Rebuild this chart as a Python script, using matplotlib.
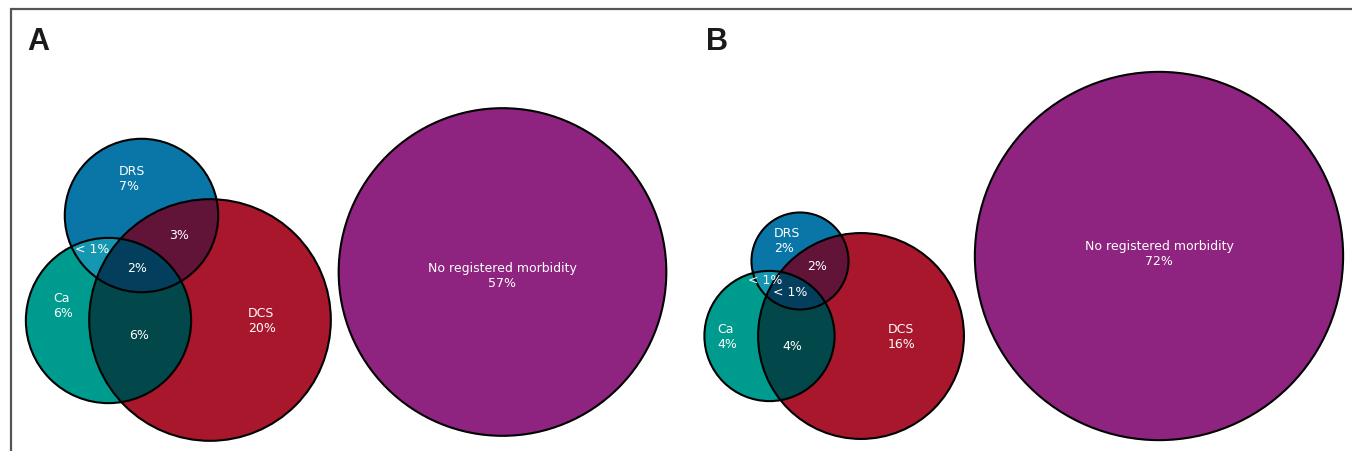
import numpy as np
import matplotlib
matplotlib.use("Agg")
import matplotlib.pyplot as plt
from matplotlib.patches import Polygon, Circle

# region percentages (value used for sizing, label shown)
sets = ["DRS", "Ca", "DCS"]

a_only = {"DRS": 7, "Ca": 6, "DCS": 20}
a_pairs = {("DRS", "DCS"): 3, ("Ca", "DRS"): 0.5, ("Ca", "DCS"): 6}
a_all3 = 2
a_none = 57
a_labels = {"DRS": "7%", "Ca": "6%", "DCS": "20%", ("DRS", "DCS"): "3%",
            ("Ca", "DRS"): "< 1%", ("Ca", "DCS"): "6%", "all": "2%", "none": "57%"}

b_only = {"DRS": 2, "Ca": 4, "DCS": 16}
b_pairs = {("DRS", "DCS"): 2, ("Ca", "DRS"): 0.5, ("Ca", "DCS"): 4}
b_all3 = 0.5
b_none = 72
b_labels = {"DRS": "2%", "Ca": "4%", "DCS": "16%", ("DRS", "DCS"): "2%",
            ("Ca", "DRS"): "< 1%", ("Ca", "DCS"): "4%", "all": "< 1%", "none": "72%"}

# layout (pixel space)
scale = 21.7
centers_a = {"DRS": (141.5, 216.5), "Ca": (108.5, 321.5), "DCS": (210, 321), "none": (502.5, 273)}
centers_b = {"DRS": (800, 262), "Ca": (769.5, 337), "DCS": (861, 337), "none": (1159, 257)}

text_a = {"DRS": (119, 179, "left"), "Ca": (53, 306, "left"), "DCS": (248, 321, "left"),
          ("DRS", "DCS"): (179, 236, "center"), ("Ca", "DRS"): (92, 250, "center"),
          ("Ca", "DCS"): (139, 336, "center"), "all": (137, 269, "center"),
          "none": (502, 276, "center")}
text_b = {"DRS": (774, 241, "left"), "Ca": (717, 337, "left"), "DCS": (888, 337, "left"),
          ("DRS", "DCS"): (817, 267, "center"), ("Ca", "DRS"): (765, 281, "center"),
          ("Ca", "DCS"): (792, 347, "center"), "all": (790, 293, "center"),
          "none": (1159, 254, "center")}

colors = {"DRS": "#0a76a8", "Ca": "#009b8f", "DCS": "#a8172c", "none": "#8e2380",
          ("DRS", "DCS"): "#611438", ("Ca", "DRS"): "#1597b2",
          ("Ca", "DCS"): "#02474a", "all": "#033f5c"}


def circle_pts(cx, cy, r, n=500):
    t = np.linspace(0, 2 * np.pi, n, endpoint=False)
    return np.column_stack([cx + r * np.cos(t), cy + r * np.sin(t)])


def clip(subject, clipper):
    out = list(subject)
    m = len(clipper)
    for i in range(m):
        if not out:
            break
        a, b = clipper[i], clipper[(i + 1) % m]
        def side(p):
            return (b[0] - a[0]) * (p[1] - a[1]) - (b[1] - a[1]) * (p[0] - a[0])
        inp, out = out, []
        for j in range(len(inp)):
            p, q = inp[j], inp[(j + 1) % len(inp)]
            sp, sq = side(p), side(q)
            if sp >= 0:
                out.append(p)
            if (sp >= 0) != (sq >= 0):
                t = sp / (sp - sq)
                out.append(p + t * (q - p))
    return np.array(out)


def draw_panel(ax, only, pairs, all3, none, labels, centers, texts):
    totals = {}
    for s in sets:
        tot = only[s] + all3
        for k, v in pairs.items():
            if s in k:
                tot += v
        totals[s] = tot
    totals["none"] = none
    radii = {k: scale * np.sqrt(v) for k, v in totals.items()}
    pts = {k: circle_pts(*centers[k], radii[k]) for k in totals}

    for k in ["none", "DCS", "Ca", "DRS"]:
        ax.add_patch(Polygon(pts[k], closed=True, facecolor=colors[k], edgecolor="none"))
    for k in pairs:
        poly = clip(pts[k[0]], pts[k[1]])
        ax.add_patch(Polygon(poly, closed=True, facecolor=colors[k], edgecolor="none"))
    poly = clip(clip(pts["DRS"], pts["Ca"]), pts["DCS"])
    ax.add_patch(Polygon(poly, closed=True, facecolor=colors["all"], edgecolor="none"))
    for k in ["none", "DCS", "Ca", "DRS"]:
        ax.add_patch(Circle(centers[k], radii[k], fill=False, edgecolor="black", lw=1.5))

    for k, (x, y, ha) in texts.items():
        if k in sets:
            s = k + "\n" + labels[k]
        elif k == "none":
            s = "No registered morbidity\n" + labels[k]
        else:
            s = labels[k]
        ax.text(x, y, s, color="white", fontsize=9, ha=ha, va="center",
                multialignment=ha, linespacing=1.25)


fig = plt.figure(figsize=(13.52, 4.52), dpi=100)
ax = fig.add_axes([0, 0, 1, 1])
ax.set_xlim(0, 1352)
ax.set_ylim(452, 0)
ax.axis("off")

draw_panel(ax, a_only, a_pairs, a_all3, a_none, a_labels, centers_a, text_a)
draw_panel(ax, b_only, b_pairs, b_all3, b_none, b_labels, centers_b, text_b)

ax.plot([11, 11, 1352], [452, 10, 10], color="#555555", lw=1.6, solid_joinstyle="miter")
ax.text(27, 42, "A", fontsize=22, fontweight="bold", family="Liberation Sans", va="center", color="#1a1a1a")
ax.text(706, 42, "B", fontsize=22, fontweight="bold", family="Liberation Sans", va="center", color="#1a1a1a")

fig.savefig("out.png", dpi=100)
